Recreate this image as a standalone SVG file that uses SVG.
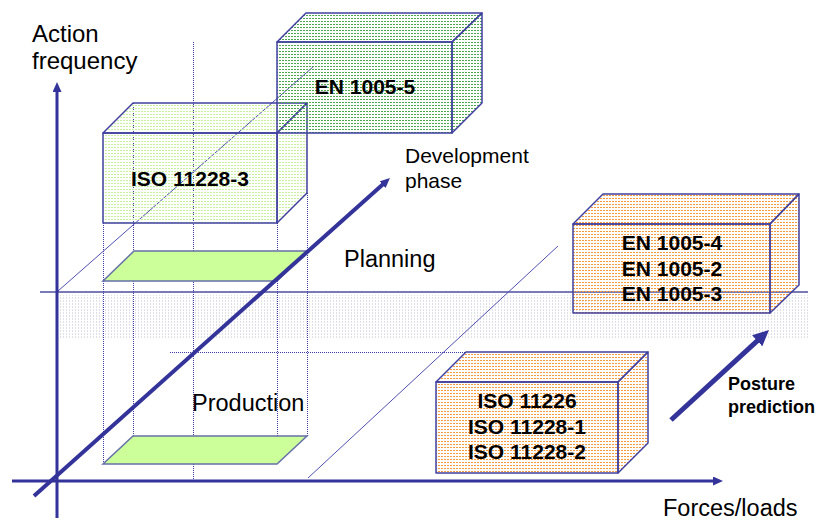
<svg xmlns="http://www.w3.org/2000/svg" width="818" height="520" viewBox="0 0 818 520">
<style>
.t{font-family:"Liberation Sans",Arial,sans-serif;fill:#000}
.b{font-weight:bold;font-size:21px;text-anchor:middle}
.edge{stroke:#4040a0;stroke-width:1.5;stroke-linejoin:round}
.dot{stroke:#3c3ca4;stroke-width:1;stroke-dasharray:1 1;fill:none}
.thin{stroke:#5050b0;stroke-width:1;fill:none}
.ax{stroke:#333399;fill:none}
.pl{fill:#ccff99;stroke:#6670a8;stroke-width:1.5}
</style>
<defs>
<pattern id="pLG" width="3" height="3" patternUnits="userSpaceOnUse"><rect x="0" y="0" width="2" height="1" fill="#c6f09e"/></pattern>
<pattern id="pDG" width="3" height="3" patternUnits="userSpaceOnUse"><rect x="0" y="0" width="2" height="1" fill="#4aa84a"/></pattern>
<pattern id="pOR" width="3" height="3" patternUnits="userSpaceOnUse"><rect x="0" y="0" width="2" height="1" fill="#f59a3c"/></pattern>
<pattern id="pH" width="3" height="3" patternUnits="userSpaceOnUse"><rect x="0" y="0" width="1" height="2" fill="#e0e0ea"/></pattern>
<marker id="ah" markerUnits="userSpaceOnUse" markerWidth="10" markerHeight="9" refX="4" refY="4.5" orient="auto"><path d="M0,0 L10,4.5 L0,9 z" fill="#333399"/></marker>
<marker id="ahL" markerUnits="userSpaceOnUse" markerWidth="16" markerHeight="15" refX="6" refY="7.5" orient="auto"><path d="M0,0 L16,7.5 L0,15 z" fill="#333399"/></marker>
</defs>

<g id="background">
<rect x="60" y="295" width="748" height="43" fill="url(#pH)"/>
<line x1="40" y1="292" x2="808" y2="292" stroke="#7a7ab8" stroke-width="2"/>
</g>

<g id="guides">
<line class="dot" x1="103.5" y1="223" x2="103.5" y2="464"/>
<line class="dot" x1="133.5" y1="103" x2="133.5" y2="436"/>
<line class="dot" x1="193.5" y1="42" x2="193.5" y2="481"/>
<line class="dot" x1="277.5" y1="223" x2="277.5" y2="464"/>
<line class="dot" x1="307.5" y1="193" x2="307.5" y2="436"/>
<line class="dot" x1="170" y1="352.5" x2="466" y2="352.5"/>
<line class="thin" x1="58" y1="291" x2="314" y2="66"/>
<line class="thin" x1="308" y1="478" x2="558" y2="246"/>
</g>

<g id="planning-layer">
<polygon class="pl" points="103,281 277,281 307,251 134,251"/>
</g>
<g id="production-layer">
<polygon class="pl" points="103,464 277,464 307,436 133,436"/>
</g>

<g id="iso11228-3">
<polygon class="edge" fill="url(#pLG)" points="103,133 133,103 307,103 277,133"/>
<polygon class="edge" fill="url(#pLG)" points="277,133 307,103 307,193 277,223"/>
<rect class="edge" fill="url(#pLG)" x="103" y="133" width="174" height="90"/>
<text class="t b" x="190" y="186">ISO 11228-3</text>
</g>

<g id="en1005-5">
<polygon class="edge" fill="url(#pDG)" points="277,42 306,13 482,13 452,42"/>
<polygon class="edge" fill="url(#pDG)" points="452,42 482,13 482,103 452,133"/>
<rect class="edge" fill="url(#pDG)" x="277" y="42" width="175" height="91"/>
<text class="t b" x="365" y="94">EN 1005-5</text>
</g>

<g id="en1005-4-2-3">
<polygon class="edge" fill="url(#pOR)" points="573,224 603,194 799,194 770,224"/>
<polygon class="edge" fill="url(#pOR)" points="770,224 799,194 799,285 770,313"/>
<rect class="edge" fill="url(#pOR)" x="573" y="224" width="197" height="89"/>
<text class="t b" x="672" y="250">EN 1005-4</text>
<text class="t b" x="672" y="276">EN 1005-2</text>
<text class="t b" x="672" y="301">EN 1005-3</text>
</g>

<g id="iso11226">
<polygon class="edge" fill="url(#pOR)" points="436,382 466,352 648,352 618,382"/>
<polygon class="edge" fill="url(#pOR)" points="618,382 648,352 648,443 618,473"/>
<rect class="edge" fill="url(#pOR)" x="436" y="382" width="182" height="91"/>
<text class="t b" x="527" y="408">ISO 11226</text>
<text class="t b" x="527" y="434">ISO 11228-1</text>
<text class="t b" x="527" y="459">ISO 11228-2</text>
</g>

<g id="connectors">
<line class="ax" stroke-width="3" x1="57" y1="518" x2="57" y2="88" marker-end="url(#ah)"/>
<line class="ax" stroke-width="3" x1="12" y1="481" x2="717" y2="481" marker-end="url(#ah)"/>
<line class="ax" stroke-width="4" x1="34" y1="496" x2="385.5" y2="182" marker-end="url(#ah)"/>
<line class="ax" stroke-width="5" x1="671" y1="420" x2="761.6" y2="336.8" marker-end="url(#ahL)"/>
</g>

<g id="labels">
<text class="t" x="32" y="42" font-size="24">Action</text>
<text class="t" x="32" y="69" font-size="24">frequency</text>
<text class="t" x="405" y="163" font-size="21">Development</text>
<text class="t" x="405" y="188" font-size="21">phase</text>
<text class="t" x="344" y="267" font-size="23.5">Planning</text>
<text class="t" x="192" y="411" font-size="23.5">Production</text>
<text class="t" x="663" y="516" font-size="23.5">Forces/loads</text>
<text class="t" x="728" y="390" font-size="18" font-weight="bold">Posture</text>
<text class="t" x="728" y="413" font-size="18" font-weight="bold">prediction</text>
</g>
</svg>
